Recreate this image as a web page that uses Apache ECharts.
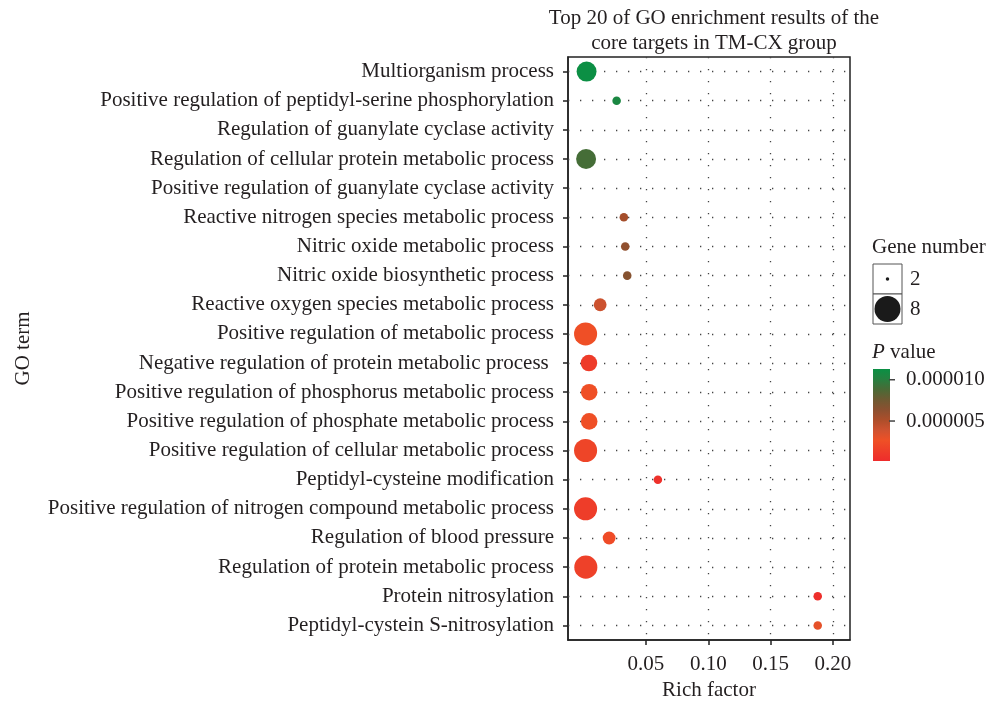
<!DOCTYPE html>
<html>
<head>
<meta charset="utf-8">
<script src="https://cdn.jsdelivr.net/npm/echarts@6/dist/echarts.min.js"></script>
<style>
  html, body { margin: 0; padding: 0; background: #fff; }
  #main { width: 992px; height: 701px; }
</style>
</head>
<body>
<div id="main"></div>
<script>
// GO terms, top to bottom
var terms = [
    'Multiorganism process',
    'Positive regulation of peptidyl-serine phosphorylation',
    'Regulation of guanylate cyclase activity',
    'Regulation of cellular protein metabolic process',
    'Positive regulation of guanylate cyclase activity',
    'Reactive nitrogen species metabolic process',
    'Nitric oxide metabolic process',
    'Nitric oxide biosynthetic process',
    'Reactive oxygen species metabolic process',
    'Positive regulation of metabolic process',
    'Negative regulation of protein metabolic process ',
    'Positive regulation of phosphorus metabolic process',
    'Positive regulation of phosphate metabolic process',
    'Positive regulation of cellular metabolic process',
    'Peptidyl-cysteine modification',
    'Positive regulation of nitrogen compound metabolic process',
    'Regulation of blood pressure',
    'Regulation of protein metabolic process',
    'Protein nitrosylation',
    'Peptidyl-cystein S-nitrosylation'
];
// rich factor (null = no point drawn)
var richFactor = [0.0024, 0.0265, null, 0.0020, null, 0.0323, 0.0334, 0.0350, 0.0133, 0.0016,
                  0.0043, 0.0045, 0.0045, 0.0016, 0.0596, 0.0016, 0.0205, 0.0018, 0.1878, 0.1878];
var geneNumber = [6, 3, null, 6, null, 3, 3, 3, 4, 7,
                  5, 5, 5, 7, 3, 7, 4, 7, 3, 3];
var pValue = [1.12e-5, 1.06e-5, null, 9.0e-6, null, 5.4e-6, 6.2e-6, 6.6e-6, 4.0e-6, 2.6e-6,
              1.2e-6, 2.6e-6, 2.6e-6, 1.9e-6, 0.5e-6, 1.3e-6, 2.3e-6, 1.6e-6, 0.4e-6, 3.0e-6];

var xTicks = [0.05, 0.10, 0.15, 0.20];
var pTicks = [0.000010, 0.000005];
var geneKeys = [2, 8];
var pMin = 1.6e-7, pMax = 1.13e-5;

// low -> high p value colours
var pColors = ['#ee2c2c', '#ee3e29', '#ef5026', '#cf5230', '#ad4e2a',
               '#8c5030', '#6e5a32', '#4a6a36', '#268040', '#0a9044'];

var FONT = '"Liberation Serif", "DejaVu Serif", serif';
var TXT = '#231f20';
var FS = 21;

function sizeOf(n) {
    return 3.5 + 15.9 * (Math.sqrt(n) - Math.sqrt(2));
}

var points = [];
for (var i = 0; i < terms.length; i++) {
    if (richFactor[i] == null) continue;
    points.push([richFactor[i], terms[i], pValue[i], geneNumber[i]]);
}

var chart = echarts.init(document.getElementById('main'));

// colour bar + size key
var barX = 873, barTop = 369, barH = 92, barW = 17;
var graphics = [
    { type: 'text', left: 872, top: 237, style: { text: 'Gene number', font: FS + 'px ' + FONT, fill: TXT } },
    { type: 'rect', shape: { x: 873, y: 264, width: 29, height: 30 }, style: { fill: '#fff', stroke: '#555', lineWidth: 1 } },
    { type: 'rect', shape: { x: 873, y: 294, width: 29, height: 30 }, style: { fill: '#fff', stroke: '#555', lineWidth: 1 } },
    { type: 'text', left: 872, top: 342, style: {
        text: '{i|P} value', font: FS + 'px ' + FONT, fill: TXT,
        rich: { i: { fontStyle: 'italic', fontFamily: FONT, fontSize: FS, fill: TXT } }
    } },
    { type: 'rect', shape: { x: barX, y: barTop, width: barW, height: barH },
      style: { fill: new echarts.graphic.LinearGradient(0, 1, 0, 0, pColors.map(function (c, k) {
          return { offset: k / (pColors.length - 1), color: c };
      })) } }
];
geneKeys.forEach(function (g, k) {
    var cy = 279 + k * 30;
    graphics.push({ type: 'circle', shape: { cx: 887.5, cy: cy, r: sizeOf(g) / 2 }, style: { fill: '#1a1a1a' } });
    graphics.push({ type: 'text', x: 910, y: cy, style: { text: String(g), font: FS + 'px ' + FONT, fill: TXT, verticalAlign: 'middle' } });
});
pTicks.forEach(function (v) {
    var y = barTop + barH - (v - pMin) / (pMax - pMin) * barH;
    graphics.push({ type: 'line', shape: { x1: barX + barW - 1, y1: y, x2: barX + barW + 5, y2: y }, style: { stroke: '#444', lineWidth: 1.5 } });
    graphics.push({ type: 'text', x: 906, y: y, style: { text: v.toFixed(6), font: FS + 'px ' + FONT, fill: TXT, verticalAlign: 'middle' } });
});

var option = {
    backgroundColor: '#fff',
    textStyle: { fontFamily: FONT },
    title: {
        text: 'Top 20 of GO enrichment results of the\ncore targets in TM-CX group',
        left: 709, top: 1, textAlign: 'center',
        textStyle: { fontFamily: FONT, fontSize: FS, fontWeight: 'normal', color: TXT, lineHeight: 25 }
    },
    grid: {
        left: 568, right: 142, top: 57, bottom: 61,
        outerBoundsMode: 'none', containLabel: false,
        show: true, borderColor: '#222', borderWidth: 1.5, backgroundColor: '#fff'
    },
    xAxis: {
        type: 'value', min: -0.0125, max: 0.2137,
        name: 'Rich factor', nameLocation: 'middle', nameGap: 40,
        nameTextStyle: { fontFamily: FONT, fontSize: FS, color: TXT },
        axisLine: { show: true, onZero: false, lineStyle: { color: '#222', width: 1.5 } },
        axisTick: { show: true, length: 5, customValues: xTicks, lineStyle: { color: '#222', width: 1.5 } },
        axisLabel: { customValues: xTicks, margin: 14, fontFamily: FONT, fontSize: FS, color: TXT,
                     formatter: function (v) { return v.toFixed(2); } },
        splitLine: { show: false }
    },
    yAxis: {
        type: 'category', inverse: true, data: terms,
        name: 'GO term', nameLocation: 'middle', nameRotate: 90, nameGap: 534,
        nameTextStyle: { fontFamily: FONT, fontSize: FS, color: TXT },
        axisLine: { show: true, onZero: false, lineStyle: { color: '#222', width: 1.5 } },
        axisTick: { show: true, alignWithLabel: true, length: 5, lineStyle: { color: '#222', width: 1.5 } },
        axisLabel: { margin: 14, fontFamily: FONT, fontSize: FS, color: TXT, interval: 0 },
        splitLine: { show: false }
    },
    visualMap: {
        type: 'continuous', show: false, seriesIndex: 1, dimension: 2,
        min: pMin, max: pMax, inRange: { color: pColors }
    },
    series: [
        {
            type: 'scatter', data: [], z: 1, silent: true,
            markLine: {
                z: 1, silent: true, symbol: 'none', label: { show: false },
                lineStyle: { color: '#444', width: 1.3, type: [1.3, 10.7] },
                data: terms.map(function (t) { return { yAxis: t }; })
                    .concat(xTicks.map(function (v) { return { xAxis: v }; }))
            }
        },
        {
            type: 'scatter', z: 4,
            data: points,
            symbolSize: function (d) { return sizeOf(d[3]); },
            itemStyle: { opacity: 1 }
        }
    ],
    graphic: graphics
};

chart.setOption(option);
</script>
</body>
</html>
